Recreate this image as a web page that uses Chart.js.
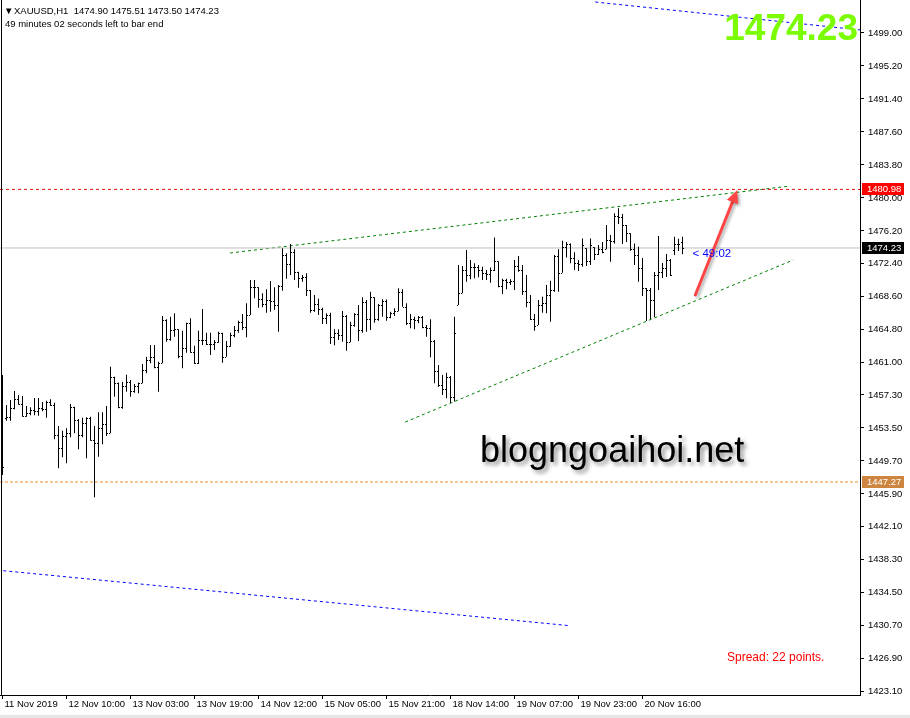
<!DOCTYPE html>
<html>
<head>
<meta charset="utf-8">
<script src="https://cdn.jsdelivr.net/npm/chart.js@4.4.1/dist/chart.umd.min.js"></script>
<style>
body { margin: 0; background: #fff; }
#wrap { width: 910px; height: 718px; }
</style>
</head>
<body>
<div id="wrap"><canvas id="gold_chart" width="910" height="718"></canvas></div>
<script>
// XAUUSD H1 bars (index 0 = first bar on screen)
var opens = [1459.02,1454.61,1454.80,1455.76,1456.83,1456.26,1454.88,1455.19,1455.57,1455.49,
1455.76,1455.64,1456.49,1456.14,1452.69,1451.15,1452.57,1452.88,1455.95,1454.41,
1452.69,1454.10,1454.60,1452.11,1451.73,1453.45,1453.95,1452.88,1459.33,1458.71,
1455.88,1458.33,1458.83,1457.79,1458.33,1458.64,1460.18,1461.33,1461.71,1460.49,
1461.02,1465.94,1463.71,1464.78,1464.86,1461.79,1462.74,1465.56,1462.21,1460.95,
1463.63,1463.63,1463.17,1463.13,1463.44,1464.47,1461.71,1462.97,1464.17,1464.78,
1465.74,1465.16,1466.51,1469.70,1469.70,1468.32,1467.78,1468.24,1468.16,1467.63,
1469.85,1473.42,1472.39,1473.80,1471.50,1470.74,1470.92,1469.39,1467.09,1467.78,
1467.24,1466.17,1466.51,1463.94,1464.47,1464.21,1466.40,1463.37,1465.36,1466.63,
1464.78,1468.01,1466.02,1468.55,1466.05,1467.63,1468.16,1466.25,1466.78,1466.97,
1469.16,1467.47,1465.56,1466.02,1465.94,1466.25,1465.09,1465.05,1463.55,1460.06,
1458.45,1457.99,1459.33,1457.03,1467.70,1469.08,1471.70,1471.12,1472.04,1472.04,
1471.70,1471.39,1471.24,1471.70,1472.70,1469.85,1470.54,1470.35,1470.46,1472.16,
1471.74,1469.31,1468.05,1466.02,1465.40,1467.66,1467.86,1468.82,1469.39,1473.31,
1471.40,1474.36,1474.69,1473.12,1472.55,1472.39,1474.20,1472.70,1474.31,1473.54,
1474.08,1474.08,1475.15,1475.05,1477.92,1477.84,1476.88,1475.92,1474.08,1473.42,
1471.89,1469.62,1469.39,1468.24,1471.12,1471.47,1471.93,1472.85,1474.00,1474.69,
1474.90];
var highs = [1459.60,1456.14,1456.72,1457.76,1457.30,1457.18,1456.03,1455.88,1456.95,1456.95,
1456.49,1456.64,1456.80,1456.41,1453.72,1453.18,1453.45,1456.26,1455.95,1454.53,
1454.68,1454.72,1454.79,1453.72,1455.30,1455.30,1456.03,1460.56,1459.40,1458.72,
1458.83,1459.63,1459.02,1458.56,1458.72,1460.87,1461.71,1463.06,1463.06,1461.13,
1466.40,1466.02,1466.32,1466.71,1464.86,1464.70,1465.62,1466.13,1462.97,1464.70,
1467.20,1464.47,1464.47,1463.63,1464.59,1464.47,1463.52,1464.47,1465.24,1465.86,
1466.63,1467.86,1470.54,1470.54,1469.70,1469.01,1469.47,1470.43,1469.70,1469.97,
1474.20,1473.62,1474.69,1474.08,1471.50,1471.12,1471.32,1469.39,1468.82,1468.39,
1467.35,1466.71,1466.78,1464.86,1464.86,1466.97,1466.51,1465.74,1466.71,1467.66,
1468.55,1468.24,1469.20,1468.55,1467.78,1468.32,1468.30,1466.89,1467.28,1469.59,
1469.47,1467.86,1466.63,1466.32,1466.40,1466.40,1465.36,1466.02,1463.63,1460.75,
1459.60,1459.87,1459.48,1466.32,1472.27,1472.16,1474.00,1472.85,1472.47,1472.27,
1472.08,1471.70,1471.97,1475.43,1472.70,1470.69,1470.69,1470.62,1472.85,1473.31,
1472.27,1471.12,1468.82,1466.63,1468.24,1468.62,1469.97,1470.46,1473.42,1474.08,
1475.05,1474.93,1474.74,1473.74,1472.85,1475.32,1474.20,1475.32,1474.31,1474.58,
1474.93,1476.88,1475.74,1478.22,1478.80,1478.14,1476.88,1475.92,1474.74,1474.36,
1473.08,1469.62,1469.62,1471.47,1475.62,1472.50,1473.54,1472.97,1475.51,1475.28,
1475.51];
var lows = [1448.08,1454.33,1454.33,1455.65,1456.18,1454.79,1454.79,1454.96,1454.96,1454.91,
1455.42,1454.68,1456.03,1452.19,1448.85,1450.12,1449.43,1452.42,1452.88,1451.04,
1452.42,1450.00,1452.03,1445.51,1450.19,1451.62,1452.57,1452.88,1457.10,1455.76,
1455.72,1457.68,1457.10,1457.56,1457.49,1458.64,1459.79,1460.95,1460.37,1457.68,
1460.95,1463.44,1463.55,1464.01,1461.52,1460.37,1462.17,1462.17,1460.87,1460.87,
1463.06,1463.06,1461.90,1462.48,1463.32,1461.02,1461.71,1462.86,1463.94,1464.47,
1464.78,1463.94,1466.51,1468.44,1467.35,1467.40,1466.78,1466.89,1467.09,1464.59,
1469.31,1470.69,1471.12,1470.54,1469.66,1470.35,1468.70,1466.78,1466.89,1466.51,
1465.47,1465.47,1463.17,1463.02,1463.63,1463.44,1462.40,1463.37,1465.16,1463.52,
1464.47,1464.59,1464.78,1465.62,1465.86,1466.32,1465.86,1466.13,1466.40,1466.95,
1467.47,1465.36,1464.98,1464.86,1465.56,1464.98,1464.01,1461.63,1458.64,1458.25,
1457.30,1456.91,1456.34,1456.53,1467.66,1469.01,1470.35,1470.62,1470.74,1470.85,
1470.54,1470.54,1470.23,1471.58,1469.70,1468.93,1469.47,1469.97,1469.39,1471.50,
1468.82,1467.40,1465.94,1464.70,1465.36,1466.78,1466.71,1465.74,1469.20,1469.20,
1471.39,1473.12,1472.47,1471.70,1471.58,1472.08,1472.16,1472.27,1472.85,1473.42,
1473.62,1474.08,1472.65,1474.74,1476.99,1474.69,1474.93,1473.92,1472.27,1470.35,
1468.70,1465.82,1466.05,1466.28,1469.39,1470.77,1470.89,1471.01,1473.42,1473.89,
1473.50];
var closes = [1448.97,1454.80,1455.76,1456.83,1456.26,1454.88,1455.19,1455.57,1455.49,1455.76,
1455.64,1456.49,1456.14,1452.69,1451.15,1452.57,1452.88,1455.95,1454.41,1452.69,
1454.10,1454.60,1452.11,1451.73,1453.45,1453.95,1452.88,1459.33,1458.71,1455.88,
1458.33,1458.83,1457.79,1458.33,1458.64,1460.18,1461.33,1461.71,1460.49,1461.02,
1465.94,1463.71,1464.78,1464.86,1461.79,1462.74,1465.56,1462.21,1460.95,1463.63,
1463.63,1463.17,1463.13,1463.44,1464.47,1461.71,1462.97,1464.17,1464.78,1465.74,
1465.16,1466.51,1469.70,1469.70,1468.32,1467.78,1468.24,1468.16,1467.63,1469.85,
1473.42,1472.39,1473.80,1471.50,1470.74,1470.92,1469.39,1467.09,1467.78,1467.24,
1466.17,1466.51,1463.94,1464.47,1464.21,1466.40,1463.37,1465.36,1466.63,1464.78,
1468.01,1466.02,1468.55,1466.05,1467.63,1468.16,1466.25,1466.78,1466.97,1469.16,
1467.47,1465.56,1466.02,1465.94,1466.25,1465.09,1465.05,1463.55,1460.06,1458.45,
1457.99,1459.33,1457.03,1464.40,1469.08,1471.70,1471.12,1472.04,1472.04,1471.70,
1471.39,1471.24,1471.70,1472.70,1469.85,1470.54,1470.35,1470.46,1472.16,1471.74,
1469.31,1468.05,1466.02,1465.24,1467.66,1467.86,1468.82,1469.39,1473.31,1471.32,
1474.36,1474.69,1473.12,1472.55,1472.39,1474.58,1472.70,1474.58,1473.54,1474.08,
1473.80,1475.15,1475.05,1477.92,1477.84,1476.88,1475.92,1474.08,1473.42,1471.89,
1469.62,1469.39,1468.24,1471.12,1471.47,1471.93,1472.85,1471.12,1474.69,1474.69,
1474.23];

var xTickIndex = [0, 16, 32, 48, 64, 80, 96, 112, 128, 144, 160];
var xTickLabels = ["11 Nov 2019", "12 Nov 10:00", "13 Nov 03:00", "13 Nov 19:00", "14 Nov 12:00",
    "15 Nov 05:00", "15 Nov 21:00", "18 Nov 14:00", "19 Nov 07:00", "19 Nov 23:00", "20 Nov 16:00"];
var yTickValues = [1423.10, 1426.90, 1430.70, 1434.50, 1438.30, 1442.10, 1445.90, 1449.70, 1453.50,
    1457.30, 1461.00, 1464.80, 1468.60, 1472.40, 1476.20, 1480.00, 1483.80, 1487.60, 1491.40, 1495.20, 1499.00];

var bidPrice = 1474.23;
var alertHigh = 1480.98;
var alertLow = 1447.27;

// drawn objects, [bar index, price]
var upperTrend = [[56.9, 1473.65], [196.9, 1481.37]];
var lowerTrend = [[100.7, 1454.18], [197.7, 1472.85]];
var channelTop = [[148.2, 1502.57], [214.4, 1499.35]];
var channelBottom = [[0.2, 1437.05], [141.9, 1430.71]];
var arrowPts = [[173.2, 1468.82], [183.7, 1480.91]];

var xMin = -0.625, xMax = 214.375;
var yMin = 1422.73, yMax = 1502.80;

var FONT = "'Liberation Sans', Arial, sans-serif";
Chart.defaults.font.family = FONT;

function pts(arr) {
    return arr.map(function (p) { return { x: p[0], y: p[1] }; });
}
function flat(v) {
    return [{ x: xMin, y: v }, { x: xMax, y: v }];
}
function lineSet(data, color, dash) {
    return {
        type: "line", data: data, borderColor: color, borderWidth: 1,
        borderDash: dash, pointRadius: 0, order: 2, tension: 0
    };
}

var rangeData = highs.map(function (h, i) { return { x: i, y: [lows[i], h] }; });

var ohlcTicks = {
    id: "ohlcTicks",
    afterDatasetsDraw: function (chart) {
        var ctx = chart.ctx, xs = chart.scales.x, ys = chart.scales.y;
        ctx.save();
        ctx.fillStyle = "#000";
        for (var i = 0; i < opens.length; i++) {
            var px = Math.floor(xs.getPixelForValue(i));
            ctx.fillRect(px - 1, Math.round(ys.getPixelForValue(opens[i])), 1, 1);
            ctx.fillRect(px + 1, Math.round(ys.getPixelForValue(closes[i])), 1, 1);
        }
        ctx.restore();
    }
};

var extras = {
    id: "extras",
    afterDraw: function (chart) {
        var ctx = chart.ctx, xs = chart.scales.x, ys = chart.scales.y, a = chart.chartArea;
        ctx.save();

        // left frame + bottom strip
        ctx.fillStyle = "#000";
        ctx.fillRect(1, 0, 1, a.bottom);
        ctx.fillStyle = "#e6e6e6";
        ctx.fillRect(0, 715, 910, 3);

        // arrow
        var x1 = xs.getPixelForValue(arrowPts[0][0]), y1 = ys.getPixelForValue(arrowPts[0][1]);
        var x2 = xs.getPixelForValue(arrowPts[1][0]), y2 = ys.getPixelForValue(arrowPts[1][1]);
        var ang = Math.atan2(y2 - y1, x2 - x1);
        ctx.shadowColor = "rgba(0,0,0,0.3)";
        ctx.shadowBlur = 3;
        ctx.shadowOffsetX = 2;
        ctx.shadowOffsetY = 2;
        ctx.strokeStyle = "#ff4545";
        ctx.fillStyle = "#ff4545";
        ctx.lineWidth = 3;
        ctx.lineCap = "round";
        ctx.beginPath();
        ctx.moveTo(x1, y1);
        ctx.lineTo(x2 - 8 * Math.cos(ang), y2 - 8 * Math.sin(ang));
        ctx.stroke();
        ctx.beginPath();
        ctx.moveTo(x2, y2);
        ctx.lineTo(x2 - 13 * Math.cos(ang) + 6 * Math.sin(ang), y2 - 13 * Math.sin(ang) - 6 * Math.cos(ang));
        ctx.lineTo(x2 - 13 * Math.cos(ang) - 6 * Math.sin(ang), y2 - 13 * Math.sin(ang) + 6 * Math.cos(ang));
        ctx.closePath();
        ctx.fill();

        // watermark
        ctx.shadowColor = "rgba(0,0,0,0.45)";
        ctx.shadowBlur = 4;
        ctx.shadowOffsetX = 3;
        ctx.shadowOffsetY = 3;
        ctx.fillStyle = "#000";
        ctx.font = "36px " + FONT;
        ctx.textBaseline = "alphabetic";
        ctx.textAlign = "left";
        ctx.fillText("blogngoaihoi.net", 480, 462);
        ctx.shadowColor = "transparent";
        ctx.shadowBlur = 0;
        ctx.shadowOffsetX = 0;
        ctx.shadowOffsetY = 0;

        // big price
        ctx.font = "bold 37px " + FONT;
        ctx.fillStyle = "#7cfc00";
        ctx.textAlign = "right";
        ctx.fillText(bidPrice.toFixed(2), 858, 40);

        // header
        ctx.textAlign = "left";
        ctx.fillStyle = "#000";
        ctx.font = "9.5px " + FONT;
        ctx.fillText("\u25BC", 4, 14);
        ctx.fillText("XAUUSD,H1  1474.90 1475.51 1473.50 1474.23", 14, 14);
        ctx.fillText("49 minutes 02 seconds left to bar end", 5, 27);

        // spread
        ctx.font = "12px " + FONT;
        ctx.fillStyle = "#ff0000";
        ctx.fillText("Spread: 22 points.", 727, 661);

        // countdown next to last bar
        ctx.font = "11.5px " + FONT;
        ctx.fillStyle = "#0000ff";
        ctx.textBaseline = "middle";
        ctx.fillText("< 49:02", xs.getPixelForValue(opens.length + 1.5), ys.getPixelForValue(bidPrice) + 6);

        // price tags on the axis
        var tags = [[alertHigh, "#ff0000"], [bidPrice, "#000000"], [alertLow, "#cd853f"]];
        ctx.font = "9.5px " + FONT;
        tags.forEach(function (t) {
            var y = Math.round(ys.getPixelForValue(t[0]));
            ctx.fillStyle = t[1];
            ctx.fillRect(862, y - 6, 42, 12);
            ctx.fillStyle = "#fff";
            ctx.fillText(t[0].toFixed(2), 867, y + 0.5);
        });
        ctx.restore();
    }
};

var ctx = document.getElementById("gold_chart");
var myChart = new Chart(ctx, {
    type: "bar",
    data: {
        datasets: [
            {
                data: rangeData,
                backgroundColor: "#000",
                barThickness: 1,
                inflateAmount: 0,
                borderWidth: 0,
                order: 1
            },
            lineSet(flat(bidPrice), "#c0c0c0", []),
            lineSet(flat(alertHigh), "#e01010", [3, 3]),
            lineSet(flat(alertLow), "#ee8a2a", [3, 2]),
            lineSet(pts(upperTrend), "#008000", [3, 3]),
            lineSet(pts(lowerTrend), "#008000", [3, 3]),
            lineSet(pts(channelTop), "#0000ff", [3, 3]),
            lineSet(pts(channelBottom), "#0000ff", [3, 3])
        ]
    },
    options: {
        responsive: false,
        animation: false,
        events: [],
        layout: { padding: 0 },
        plugins: { legend: { display: false }, tooltip: { enabled: false } },
        scales: {
            x: {
                type: "linear",
                offset: false,
                min: xMin,
                max: xMax,
                afterBuildTicks: function (scale) {
                    scale.ticks = xTickIndex.map(function (v) { return { value: v }; });
                },
                afterFit: function (scale) {
                    scale.height = 23;
                    scale.paddingLeft = 0;
                    scale.paddingRight = 0;
                },
                ticks: {
                    autoSkip: false,
                    maxRotation: 0,
                    align: "start",
                    labelOffset: 2,
                    padding: 0,
                    color: "#000",
                    font: { size: 9.5 },
                    callback: function (v) { return xTickLabels[xTickIndex.indexOf(v)]; }
                },
                grid: { offset: false, drawOnChartArea: false, tickLength: 4, tickColor: "#000" },
                border: { display: true, color: "#000" }
            },
            y: {
                position: "right",
                min: yMin,
                max: yMax,
                afterBuildTicks: function (scale) {
                    scale.ticks = yTickValues.map(function (v) { return { value: v }; });
                },
                afterFit: function (scale) {
                    scale.width = 50;
                    scale.paddingTop = 0;
                    scale.paddingBottom = 0;
                },
                ticks: {
                    autoSkip: false,
                    padding: 4,
                    color: "#000",
                    font: { size: 9.5 },
                    callback: function (v) { return v.toFixed(2); }
                },
                grid: { drawOnChartArea: false, tickLength: 4, tickColor: "#000" },
                border: { display: true, color: "#000" }
            }
        }
    },
    plugins: [ohlcTicks, extras]
});
</script>
</body>
</html>
